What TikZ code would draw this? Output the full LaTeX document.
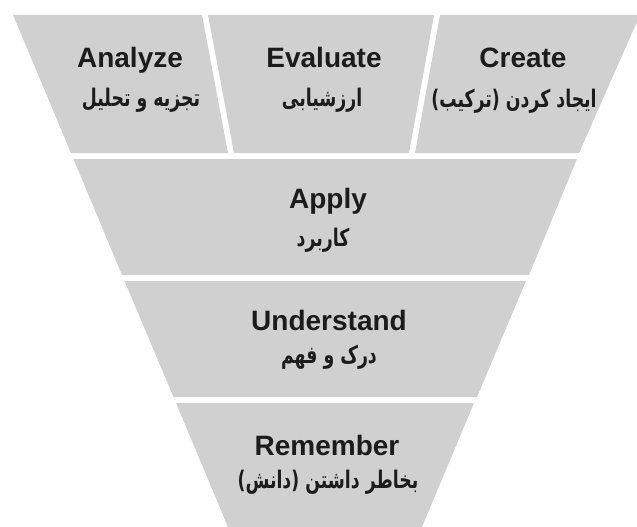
\documentclass[tikz,border=0pt]{standalone}
\usepackage{fontspec}
\usepackage{graphicx}
\setmainfont{Liberation Sans}
\newfontfamily\fafont[Script=Arabic]{DejaVu Sans}
\TeXXeTstate=1
\definecolor{boxgray}{HTML}{D0D0D0}
\definecolor{ink}{HTML}{1C1C1C}
\newcommand{\fatext}[1]{\scalebox{1}[1.4]{\beginR #1\endR}}
\tikzset{
  piece/.style={fill=boxgray, draw=none},
  en/.style={font=\fontsize{28}{30}\selectfont\bfseries, text=ink, anchor=base, inner sep=0pt},
  fa/.style={font=\fafont\fontsize{17.3}{20}\selectfont\bfseries, text=ink, anchor=center, inner sep=0pt}
}
\begin{document}
\begin{tikzpicture}[x=1pt,y=-1pt]
\useasboundingbox (0,0) rectangle (637,527);
% top row
\fill[piece] (13,15) -- (202,15) -- (228,153) -- (71,153) -- cycle;
\fill[piece] (208,15) -- (434,15) -- (409,153) -- (234,153) -- cycle;
\fill[piece] (440,15) -- (640,15) -- (579,153) -- (415,153) -- cycle;
% apply
\fill[piece] (73.5,159) -- (577,159) -- (529,275) -- (122,275) -- cycle;
% understand
\fill[piece] (124.5,281) -- (526,281) -- (477,397) -- (173.5,397) -- cycle;
% remember
\fill[piece] (176,403) -- (474,403) -- (422,527) -- (228,527) -- cycle;
% texts
\node[en] (analyze) at (130,67) {Analyze};
\node[fa] (analyzefa) at (141,100) {\fatext{تجزیه و تحلیل}};
\node[en] (evaluate) at (324,67) {Evaluate};
\node[fa] (evaluatefa) at (322,100) {\fatext{ارزشیابی}};
\node[en] (create) at (523,67) {Create};
\node[fa] (createfa) at (514,101) {\fatext{ایجاد کردن (ترکیب)}};
\node[en] (apply) at (328,208) {Apply};
\node[fa] (applyfa) at (323,240) {\fatext{کاربرد}};
\node[en] (understand) at (329,330) {Understand};
\node[fa] (understandfa) at (329,357) {\fatext{درک و فهم}};
\node[en] (remember) at (327,455) {Remember};
\node[fa] (rememberfa) at (328,482) {\fatext{بخاطر داشتن (دانش)}};
\end{tikzpicture}
\end{document}
